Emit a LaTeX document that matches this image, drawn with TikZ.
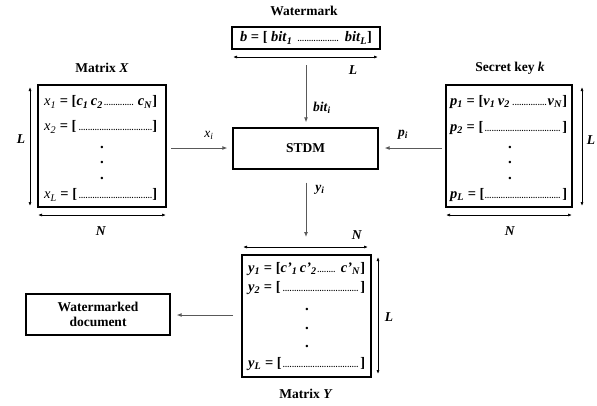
\documentclass[tikz,border=0pt]{standalone}
\usepackage{fontspec}
\setmainfont{Liberation Serif}
\usetikzlibrary{arrows.meta}
\newcommand{\bi}[1]{\textbf{\textit{#1}}}
\newcommand{\ri}[1]{\textit{\mdseries #1}}
\newcommand{\sbx}[1]{\textsubscript{\bi{#1}}}
\newcommand{\sbr}[1]{\textsubscript{\ri{#1}}}
\newcommand{\dts}{{\fontsize{8}{8}\selectfont\leaders\hbox to 2.3pt{\hss.\hss}\hfill}}
\begin{document}
\begin{tikzpicture}[x=1pt,y=-1pt,
  font=\fontsize{13.5}{15}\selectfont\bfseries,
  box/.style={draw,line width=1.3pt,inner sep=0pt},
  conn/.style={draw=black!65,line width=0.9pt,-{Latex[length=5pt,width=4pt]}},
  dim/.style={line width=0.7pt,{Latex[length=4pt,width=3pt]}-{Latex[length=4pt,width=3pt]}},
  lbl/.style={inner sep=0pt},
  row/.style={inner sep=0pt,anchor=west,font=\fontsize{14.5}{16}\selectfont\bfseries},
  vd/.style={inner sep=0pt,font=\fontsize{15}{16}\selectfont\bfseries}]
\useasboundingbox (0,0) rectangle (597,405);

% ---------- Matrix X ----------
\node[box,minimum width=128,minimum height=122] (mx) at (102,146) {};
\node[lbl] (tx) at (102,68) {Matrix \textit{X}};
\coordinate (lxa) at (30,87); \coordinate (lxb) at (30,206);
\draw[dim] (lxa) -- (lxb);
\node[lbl] (lx) at (21,139) {\bi{L}};
\coordinate (nxa) at (38,215); \coordinate (nxb) at (166,215);
\draw[dim] (nxa) -- (nxb);
\node[lbl] (nx) at (101,231) {\bi{N}};
\node[row] (x1) at (44,102) {\makebox[113pt][l]{\ri{x}\sbr{1} = [\bi{c}\sbx{1}\,\bi{c}\sbx{2}\dts\ \bi{c}\sbx{N}]}};
\node[row] (x2) at (44,127) {\makebox[113pt][l]{\ri{x}\sbr{2} = [\dts]}};
\node[vd] (xd1) at (102,147) {.};
\node[vd] (xd2) at (102,162) {.};
\node[vd] (xd3) at (102,178) {.};
\node[row] (xl) at (44,195) {\makebox[113pt][l]{\ri{x}\sbr{L} = [\dts]}};

% ---------- Watermark ----------
\node[lbl] (tw) at (304,11) {Watermark};
\node[box,minimum width=148,minimum height=22,font=\fontsize{14.5}{16}\selectfont\bfseries] (wm) at (306,38)
  {\makebox[132pt][l]{\bi{b} = [ \bi{bit}\sbx{1} \dts\ \bi{bit}\sbx{L}]}};
\coordinate (lwa) at (233,57); \coordinate (lwb) at (378,57);
\draw[dim] (lwa) -- (lwb);
\node[lbl] (lw) at (353,70) {\bi{L}};

% ---------- STDM ----------
\node[box,minimum width=145,minimum height=41] (stdm) at (305.5,148.5) {STDM};
\coordinate (bs) at (306,65);
\draw[conn,shorten >=5pt] (bs) -- (bs |- stdm.north);
\node[lbl] (bl) at (322,108) {\bi{bit}\sbx{i}};
\coordinate (xs) at (171,148);
\draw[conn,shorten >=5pt] (xs) -- (xs -| stdm.west);
\node[lbl] (xil) at (209,135) {\ri{x}\sbr{i}};
\coordinate (ps) at (442,148);
\draw[conn,shorten >=6pt] (ps) -- (ps -| stdm.east);
\node[lbl] (pil) at (403,135) {\bi{p}\sbx{i}};
\coordinate (ye) at (306,237);
\draw[conn,shorten <=13pt] (ye |- stdm.south) -- (ye);
\node[lbl] (yil) at (320,190) {\bi{y}\sbx{i}};

% ---------- Secret key ----------
\node[box,minimum width=126,minimum height=122] (sk) at (509,146) {};
\node[lbl] (tk) at (510,68) {Secret key \textit{k}};
\coordinate (lka) at (582,87); \coordinate (lkb) at (582,206);
\draw[dim] (lka) -- (lkb);
\node[lbl] (lk) at (591,140) {\bi{L}};
\coordinate (nka) at (446,215); \coordinate (nkb) at (572,215);
\draw[dim] (nka) -- (nkb);
\node[lbl] (nk) at (510,231) {\bi{N}};
\node[row] (p1) at (450,102) {\makebox[117pt][l]{\bi{p}\sbx{1} = [\bi{v}\sbx{1}\,\bi{v}\sbx{2}\dts\bi{v}\sbx{N}]}};
\node[row] (p2) at (450,128) {\makebox[117pt][l]{\bi{p}\sbx{2} = [\dts]}};
\node[vd] (pd1) at (510,147) {.};
\node[vd] (pd2) at (510,162) {.};
\node[vd] (pd3) at (510,178) {.};
\node[row] (pl) at (450,195) {\makebox[117pt][l]{\bi{p}\sbx{L} = [\dts]}};

% ---------- Matrix Y ----------
\node[box,minimum width=129,minimum height=122] (my) at (306.5,316) {};
\node[lbl] (ty) at (306,394) {Matrix \textit{Y}};
\coordinate (nya) at (243,247); \coordinate (nyb) at (368,247);
\draw[dim] (nya) -- (nyb);
\node[lbl] (ny) at (357,235) {\bi{N}};
\coordinate (lya) at (378,257); \coordinate (lyb) at (378,374);
\draw[dim] (lya) -- (lyb);
\node[lbl] (ly) at (389,317) {\bi{L}};
\node[row] (y1) at (248,269) {\makebox[117pt][l]{\bi{y}\sbx{1} = [\bi{c'}\sbx{1}\,\bi{c'}\sbx{2}\dts\ \bi{c'}\sbx{N}]}};
\node[row] (y2) at (248,288) {\makebox[117pt][l]{\bi{y}\sbx{2} = [\dts]}};
\node[vd] (yd1) at (307,309) {.};
\node[vd] (yd2) at (307,328) {.};
\node[vd] (yd3) at (307,346) {.};
\node[row] (yl) at (248,364) {\makebox[117pt][l]{\bi{y}\sbx{L} = [\dts]}};

% ---------- Watermarked document ----------
\node[box,minimum width=144,minimum height=41,align=center,font=\fontsize{13.5}{14.5}\selectfont\bfseries] (wd) at (98,314.5) {Watermarked\\document};
\coordinate (ws) at (233,315);
\draw[conn,shorten >=6pt] (ws) -- (ws -| wd.east);
\end{tikzpicture}
\end{document}
